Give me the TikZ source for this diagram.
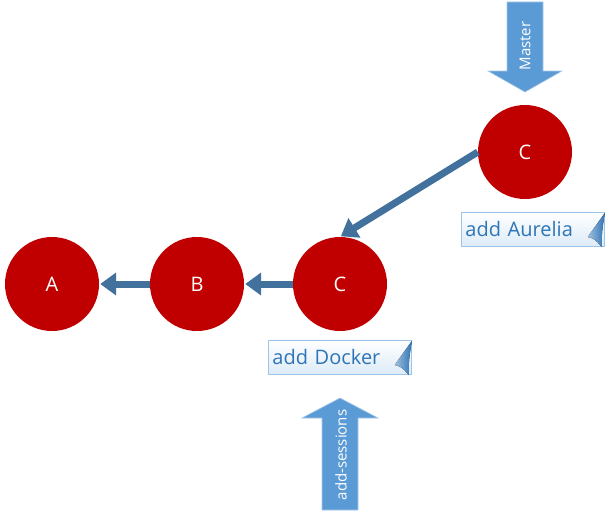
\documentclass[tikz,border=0pt]{standalone}
\usepackage{fontspec}
\setmainfont{Open Sans}
\usetikzlibrary{arrows.meta}
\definecolor{cred}{HTML}{C00000}
\definecolor{lnk}{HTML}{41719C}
\definecolor{blk}{HTML}{5B9BD5}
\definecolor{ctext}{HTML}{2E75B6}
\definecolor{cbord}{HTML}{9DC3E6}
\definecolor{cfill}{HTML}{DDEBF7}
\tikzset{
  commit/.style={circle,fill=cred,minimum size=94pt,inner sep=0pt,text=white,font=\fontsize{20}{20}\selectfont},
  link/.style={draw=lnk,line width=7pt,-{Triangle[length=16pt,width=22pt]},shorten >=1pt},
  note/.style={draw=cbord,line width=0.8pt,top color=white,bottom color=cfill,minimum width=143pt,minimum height=34pt,inner sep=0pt,text=ctext,font=\fontsize{20}{20}\selectfont,text width=135pt,align=left},
  blockbody/.style={fill=blk,draw=blk!55!white,line width=0.6pt},
  blocktext/.style={text=white,font=\fontsize{15}{15}\selectfont,rotate=90,inner sep=0pt},
}
\newcommand{\curl}[1]{\fill[left color=ctext!45!white,right color=ctext] ([shift={(0pt,-1pt)}]#1.north east) -- ([shift={(-17pt,-25pt)}]#1.north east) .. controls ([shift={(-10pt,-27pt)}]#1.north east) .. ([shift={(-3pt,-35pt)}]#1.north east) .. controls ([shift={(-3pt,-20pt)}]#1.north east) .. cycle;}
\begin{document}
\begin{tikzpicture}[x=1pt,y=-1pt]
\useasboundingbox (0,0) rectangle (607,519);
\node[commit] (A) at (52,284) {A};
\node[commit] (B) at (197,284) {B};
\node[commit] (C) at (340,284) {C};
\node[commit] (C2) at (525,152) {C};
\draw[link] (B.west) -- (A.east);
\draw[link] (C.west) -- (B.east);
\draw[link] (C2.west) -- (C.north);
\node[note,anchor=north west] (n1) at (461,212) {add Aurelia};
\node[note,anchor=north west] (n2) at (268,340) {add Docker};
\curl{n1}
\curl{n2}
% Master block arrow
\draw[blockbody] (507,2) -- (543,2) -- (543,71) -- (562,71) -- (525,92) -- (488,71) -- (507,71) -- cycle;
\node[blocktext] (master) at (525,46) {Master};
% add-sessions block arrow
\draw[blockbody] (322,510) -- (358,510) -- (358,418) -- (378,418) -- (340,398) -- (302,418) -- (322,418) -- cycle;
\node[blocktext] (sess) at (341,455) {add-sessions};
\end{tikzpicture}
\end{document}
